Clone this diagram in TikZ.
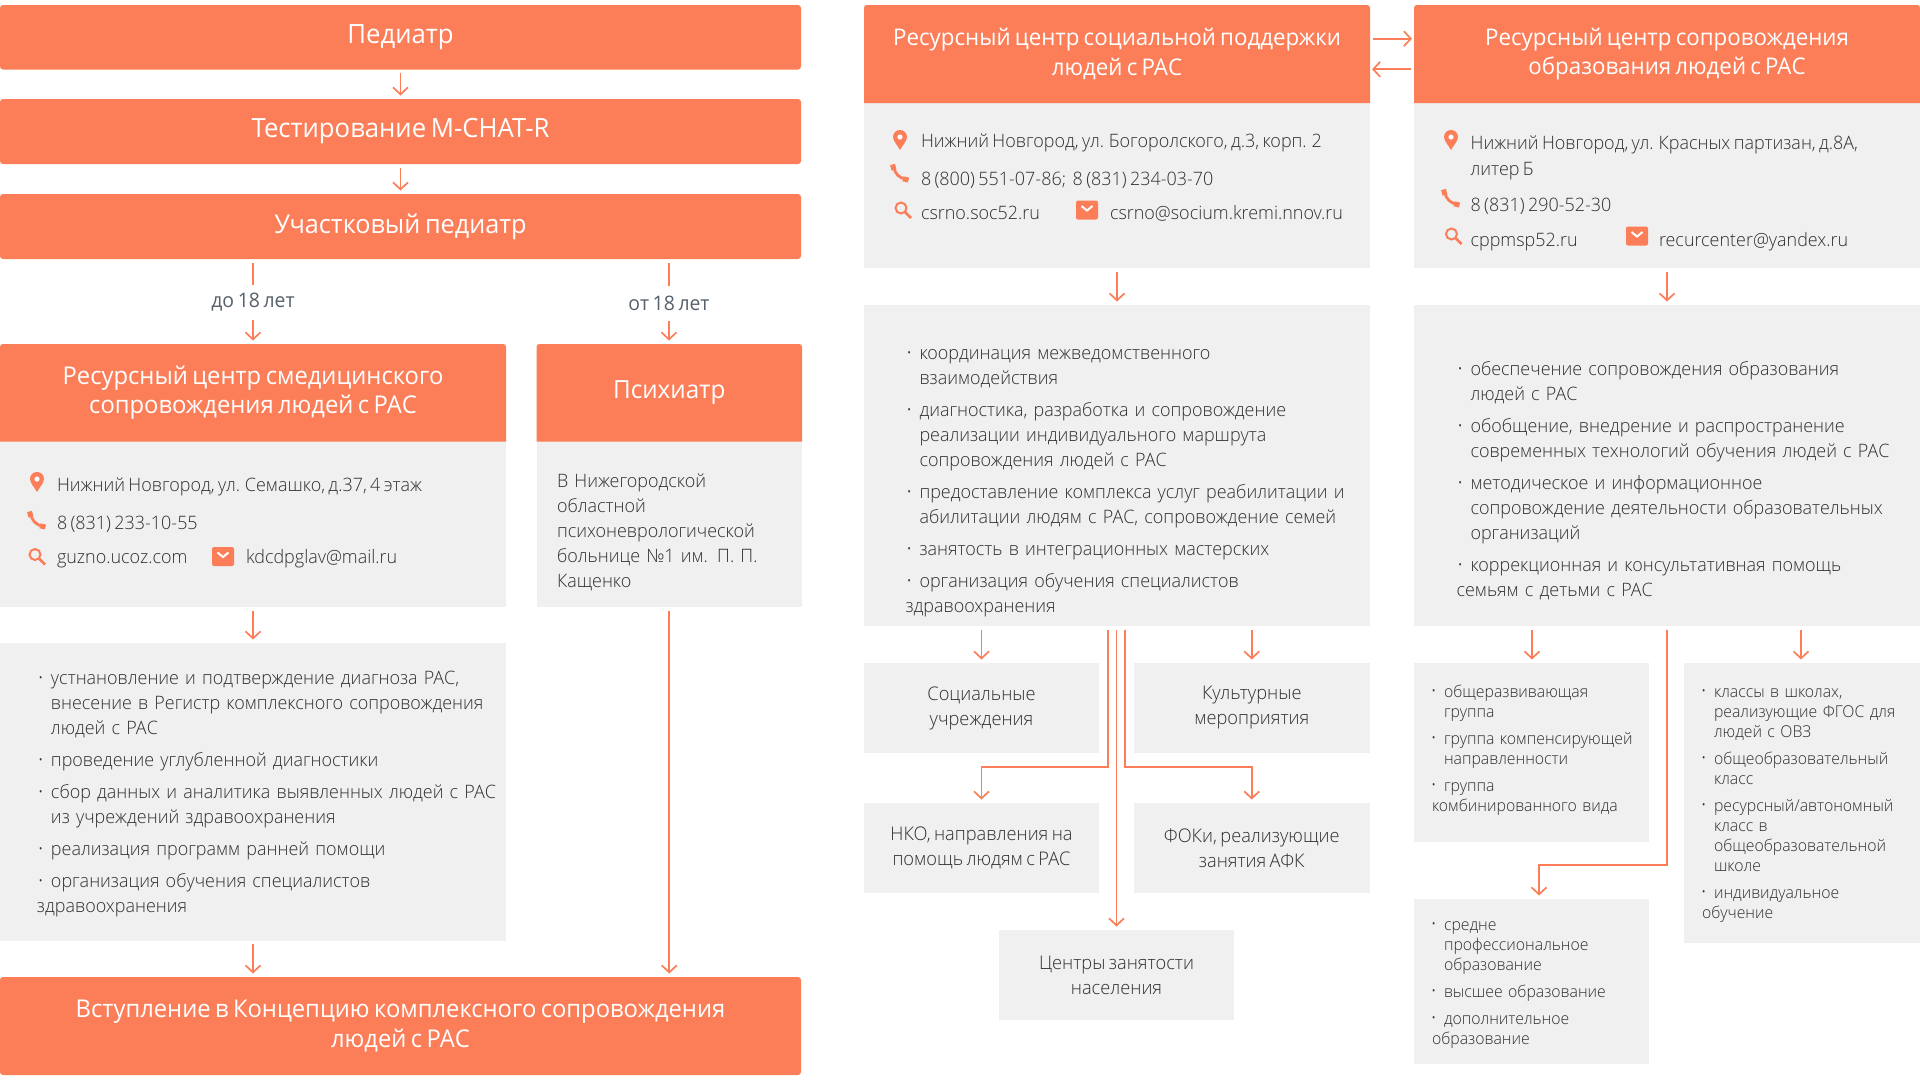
\documentclass[tikz,border=0pt]{standalone}
\usepackage{fontspec}
\setmainfont{Open Sans}[UprightFont=* Light,BoldFont=*,FakeStretch=0.97,WordSpace=0.72]
\usetikzlibrary{arrows.meta,fit}
\definecolor{hd}{HTML}{FB7E59}
\definecolor{pn}{HTML}{F0F0F0}
\definecolor{tx}{HTML}{2F2F2F}
\definecolor{lb}{HTML}{56606A}
\tikzset{
 every node/.style={inner sep=0pt,outer sep=0pt,text=tx},
 bar/.style={fill=hd,rounded corners=3pt,text=white,align=center},
 head/.style={text=white,align=center},
 panel/.style={fill=pn},
 boxt/.style={fill=pn,align=center,font=\fontsize{18.8}{25}\selectfont},
 ctext/.style={anchor=base west,font=\fontsize{18.5}{25}\selectfont},
 lst/.style={anchor=north west,align=left,font=\fontsize{18.5}{25}\selectfont},
 agelab/.style={text=lb,minimum height=35pt,font=\fontsize{20}{25}\selectfont\bfseries},
 ln/.style={draw=hd,line width=1.7pt},
 arr/.style={ln,-{Straight Barb[length=7pt,width=15pt,line width=1.7pt]},shorten >=3.5pt,shorten <=3.5pt},
 plainl/.style={ln,shorten <=3.5pt},
}
% box from corners: style, name, x1,y1,x2,y2, text
\newcommand{\bxn}[7]{%
 \pgfmathsetmacro\bcx{(#3+#5)/2}\pgfmathsetmacro\bcy{(#4+#6)/2}%
 \pgfmathsetmacro\bw{#5-#3}\pgfmathsetmacro\bh{#6-#4}%
 \node[#1,minimum width=\bw pt,minimum height=\bh pt] (#2) at (\bcx,\bcy) {#7};}
% header: name,x1,y1,x2,y2,size,text
\newcommand{\hdrbox}[7]{%
 \fill[hd] (#2,#5) [rounded corners=3pt] -- (#2,#3) -- (#4,#3) [sharp corners] -- (#4,#5) -- cycle;
 \bxn{head,font=\fontsize{#6}{29.4}\selectfont\bfseries}{#1}{#2}{#3}{#4}{#5}{#7}}
\newcommand{\pnl}[5]{\bxn{panel}{#1}{#2}{#3}{#4}{#5}{}}
\newlength{\lind}
\setlength{\lind}{14pt}
\newcommand{\li}[1]{\par\leftskip=\lind\noindent\strut\llap{\raisebox{2pt}{\fontsize{13}{13}\selectfont•}\hskip 8pt}#1}
\newcommand{\pinicon}[2]{\begin{scope}[shift={(#1,#2)}]
 \fill[hd] (0,10) .. controls (-2,6) and (-7,1) .. (-7,-3) .. controls (-7,-7) and (-4,-10) .. (0,-10) .. controls (4,-10) and (7,-7) .. (7,-3) .. controls (7,1) and (2,6) .. (0,10) -- cycle;
 \fill[white] (0,-3) circle (2.6);\end{scope}}
\newcommand{\phoneicon}[2]{\begin{scope}[shift={(#1,#2)}]
 \draw[hd,line width=2.8pt] (-6,-6) .. controls (-6,0) and (0,6) .. (6,6);
 \draw[hd,line width=5pt] (-7.5,-8.5) -- (-6,-3);
 \draw[hd,line width=5pt] (3,5.8) -- (8.5,7);\end{scope}}
\newcommand{\searchicon}[2]{\begin{scope}[shift={(#1,#2)}]
 \draw[hd,line width=2pt] (-2,-2) circle (5.5);
 \draw[hd,line width=2.6pt] (2,2) -- (8,8);\end{scope}}
\newcommand{\mailicon}[2]{\begin{scope}[shift={(#1,#2)}]
 \fill[hd,rounded corners=2pt] (-11,-9.5) rectangle (11,9.5);
 \draw[white,line width=2pt] (-5.5,-4) -- (0,0.5) -- (5.5,-4);\end{scope}}
\begin{document}
\begin{tikzpicture}[x=1pt,y=-1pt]
\useasboundingbox (0,0) rectangle (1920,1080);
% ---------- left column
\bxn{bar,font=\fontsize{26.5}{30}\selectfont\bfseries}{ped}{0}{5}{801}{69.5}{Педиатр}
\bxn{bar,font=\fontsize{26.5}{30}\selectfont\bfseries}{mchat}{0}{99}{801}{164}{Тестирование M-CHAT-R}
\bxn{bar,font=\fontsize{26}{30}\selectfont\bfseries}{uch}{0}{194}{801}{259}{Участковый педиатр}
\draw[arr] (ped) -- (mchat);
\draw[arr] (mchat) -- (uch);
\pnl{medp}{0}{344}{506}{607}
\hdrbox{medh}{0}{344}{506}{441.5}{24.5}{Ресурсный центр смедицинского\\сопровождения людей с РАС}
\pnl{psyp}{536.5}{344}{802}{607}
\hdrbox{psyh}{536.5}{344}{802}{441.5}{25}{Психиатр}
\node[agelab] (lab1) at (253,302.5) {до 18 лет};
\node[agelab] (lab2) at (669,303.5) {от 18 лет};
\draw[plainl] (uch.south -| lab1) -- (lab1.north);
\draw[plainl] (uch.south -| lab2) -- (lab2.north);
\draw[arr,shorten <=0pt] (lab1.south) -- (lab1.south |- medh.north);
\draw[arr,shorten <=0pt] (lab2.south) -- (lab2.south |- psyh.north);
\pinicon{37}{482}
\node[ctext] (medadr) at (57,491.5) {Нижний Новгород, ул. Семашко, д.37, 4 этаж};
\phoneicon{37}{520}
\node[ctext] (medtel) at (57,529.5) {8 (831) 233-10-55};
\searchicon{37}{556.5}
\node[ctext] (medweb) at (57,563.5) {guzno.ucoz.com};
\mailicon{223}{556.5}
\node[ctext] (medmail) at (246,563.5) {kdcdpglav@mail.ru};
\node[lst,text width=240pt] (psytx) at (557,473.5) {В Нижегородской\\областной\\психоневрологической\\больнице №1 им. П. П.\\Кащенко};
\pnl{medl}{0}{643}{506}{940.5}
\draw[arr] (medp) -- (medl);
\node[lst,text width=480pt] (medtx) at (37,652.5) {\setlength{\parskip}{7pt}%
\li{устнановление и подтверждение диагноза РАС,\\внесение в Регистр комплексного сопровождения\\людей с РАС}
\li{проведение углубленной диагностики}
\li{сбор данных и аналитика выявленных людей с РАС\\из учреждений здравоохранения}
\li{реализация программ ранней помощи}
\li{организация обучения специалистов\\здравоохранения}};
\bxn{bar,font=\fontsize{24.5}{29.4}\selectfont\bfseries}{fin}{0}{977}{801}{1075}{Вступление в Концепцию комплексного сопровождения\\людей с РАС}
\draw[arr] (medl.south) -- (medl.south |- fin.north);
\draw[arr] (psyp.south) -- (psyp.south |- fin.north);
% ---------- middle column
\pnl{socp}{864}{5}{1370}{268}
\hdrbox{soch}{864}{5}{1370}{103}{23}{Ресурсный центр социальной поддержки\\людей с РАС}
\pnl{edup}{1414}{5}{1920}{268}
\hdrbox{eduh}{1414}{5}{1920}{103}{23}{Ресурсный центр сопровождения\\образования людей с РАС}
\coordinate (fwdA) at (1370,38.7);
\coordinate (fwdB) at (1414,38.7);
\coordinate (bakA) at (1414,69.3);
\coordinate (bakB) at (1370,69.3);
\draw[arr,shorten >=2pt,shorten <=3pt] (fwdA) -- (fwdB);
\draw[arr,shorten >=2pt,shorten <=3pt] (bakA) -- (bakB);
\pinicon{900}{140}
\node[ctext] (socadr) at (921,147.5) {Нижний Новгород, ул. Богоролского, д.3, корп. 2};
\phoneicon{900}{173}
\node[ctext] (soctel) at (921,185) {8 (800) 551-07-86;\ \ 8 (831) 234-03-70};
\searchicon{903}{210}
\node[ctext] (socweb) at (921,219) {csrno.soc52.ru};
\mailicon{1087}{210}
\node[ctext] (socmail) at (1110,219) {csrno@socium.kremi.nnov.ru};
\pnl{socl}{864}{305}{1370}{626}
\draw[arr] (socp) -- (socl);
\node[lst,text width=480pt] (soctx) at (905.5,327.5) {\setlength{\parskip}{7pt}%
\li{координация межведомственного\\взаимодействия}
\li{диагностика, разработка и сопровождение\\реализации индивидуального маршрута\\сопровождения людей с РАС}
\li{предоставление комплекса услуг реабилитации и\\абилитации людям с РАС, сопровождение семей}
\li{занятость в интеграционных мастерских}
\li{организация обучения специалистов\\здравоохранения}};
\bxn{boxt}{soc}{864}{663}{1099}{753}{Социальные\\учреждения}
\bxn{boxt}{cul}{1134}{663}{1369.5}{753}{Культурные\\мероприятия}
\bxn{boxt}{nko}{864}{803}{1099}{893}{НКО, направления на\\помощь людям с РАС}
\bxn{boxt}{fok}{1134}{803}{1369.5}{893}{ФОКи, реализующие\\занятия АФК}
\bxn{boxt}{czn}{999}{930}{1234}{1020}{Центры занятости\\населения}
\coordinate (lT) at (1107.7,626);
\coordinate (lB) at (1107.7,767.3);
\coordinate (rT) at (1125,626);
\coordinate (rB) at (1125,767.3);
\draw[arr] (socl.south -| soc.north) -- (soc.north);
\draw[arr] (socl.south -| cul.north) -- (cul.north);
\draw[arr] (lT) -- (lB) -- (lB -| nko.north) -- (nko.north);
\draw[arr] (rT) -- (rB) -- (rB -| fok.north) -- (fok.north);
\draw[arr] (socl.south -| czn.north) -- (czn.north);
% ---------- right column
\pinicon{1451}{140}
\node[ctext,align=left] (eduadr) at (1470.6,149) {Нижний Новгород, ул. Красных партизан, д.8А,};
\node[ctext] (eduadr2) at (1470.6,175) {литер Б};
\phoneicon{1451}{198}
\node[ctext] (edutel) at (1470.6,211.5) {8 (831) 290-52-30};
\searchicon{1453.5}{236}
\node[ctext] (eduweb) at (1470.6,246) {cppmsp52.ru};
\mailicon{1637}{236}
\node[ctext] (edumail) at (1659,246) {recurcenter@yandex.ru};
\pnl{edul}{1414}{305}{1920}{626}
\draw[arr] (edup) -- (edul);
\node[lst,text width=440pt] (edutx) at (1456.5,343) {\setlength{\parskip}{7pt}%
\li{обеспечение сопровождения образования\\людей с РАС}
\li{обобщение, внедрение и распространение\\современных технологий обучения людей с РАС}
\li{методическое и информационное\\сопровождение деятельности образовательных\\организаций}
\li{коррекционная и консультативная помощь\\семьям с детьми с РАС}};
\pnl{g1}{1414}{663}{1649}{841.7}
\pnl{g2}{1684}{663}{1920}{942.7}
\pnl{g3}{1414}{899}{1649}{1063.7}
\coordinate (cT) at (1667,626);
\coordinate (cB) at (1667,865);
\coordinate (g3a) at (1539,899);
\coordinate (a1) at (1532,626);
\coordinate (a2) at (1801,626);
\draw[arr] (a1) -- (a1 |- g1.north);
\draw[arr] (a2) -- (a2 |- g2.north);
\draw[arr] (cT) -- (cB) -- (cB -| g3a) -- (g3a);
\setlength{\lind}{12pt}
\node[lst,text width=220pt,font=\fontsize{16.3}{20}\selectfont] (g1tx) at (1432,670) {\setlength{\parskip}{7pt}%
\li{общеразвивающая\\группа}
\li{группа компенсирующей\\направленности}
\li{группа\\комбинированного вида}};
\node[lst,text width=220pt,font=\fontsize{16.3}{20}\selectfont] (g2tx) at (1702,670) {\setlength{\parskip}{7pt}%
\li{классы в школах,\\реализующие ФГОС для\\людей с ОВЗ}
\li{общеобразовательный\\класс}
\li{ресурсный/автономный\\класс в\\общеобразовательной\\школе}
\li{индивидуальное\\обучение}};
\node[lst,text width=220pt,font=\fontsize{16.3}{20}\selectfont] (g3tx) at (1432,903) {\setlength{\parskip}{7pt}%
\li{средне\\профессиональное\\образование}
\li{высшее образование}
\li{дополнительное\\образование}};
\end{tikzpicture}
\end{document}
